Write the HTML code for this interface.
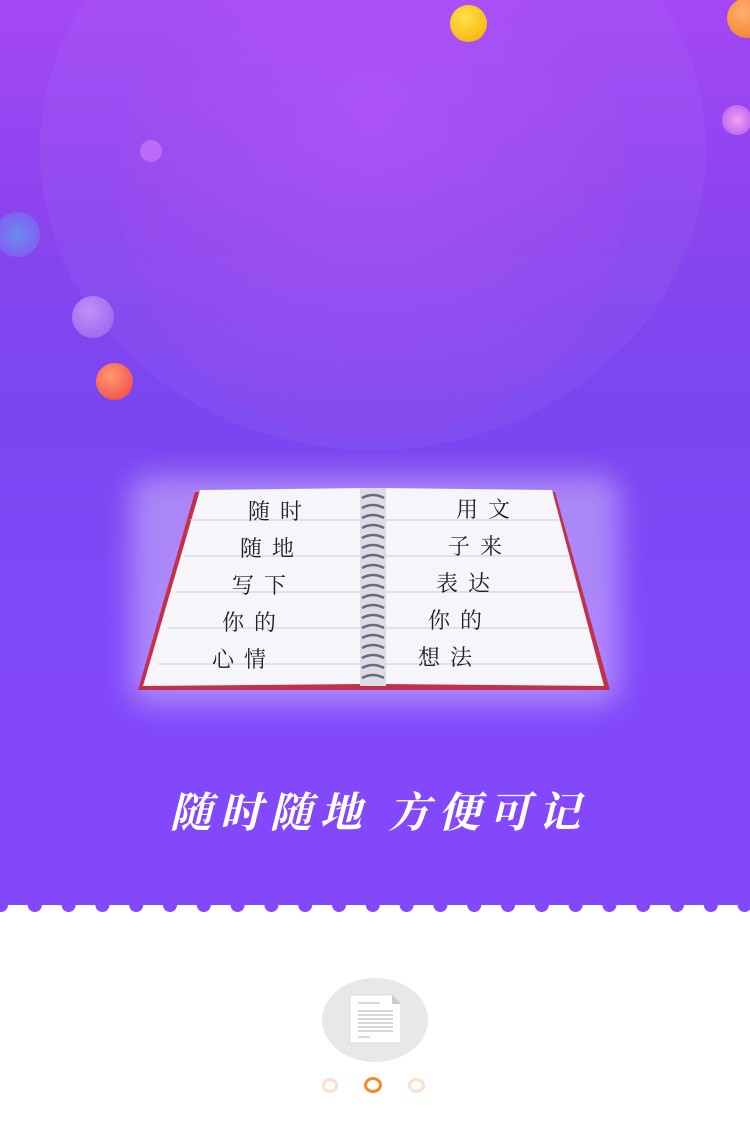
<!DOCTYPE html>
<html><head><meta charset="utf-8"><style>
body{margin:0;width:750px;height:1134px;overflow:hidden;background:#fff;font-family:"Liberation Sans","Noto Sans CJK SC",sans-serif}
#hero{position:absolute;left:0;top:0;width:750px;height:905px;background:linear-gradient(180deg,#a447f6 0%,#8a44ee 25%,#7a46f0 45%,#8148fa 70%,#8448fb 100%);overflow:hidden}
.c{position:absolute;border-radius:50%}
.ball{position:absolute;border-radius:50%}
.book-text{position:absolute;font-family:"Noto Serif CJK SC","WenQuanYi Zen Hei",serif;font-size:22px;color:#222;letter-spacing:10px;line-height:37px}
</style></head><body>
<div id="hero">
<div class="c" style="left:40px;top:-150px;width:666px;height:600px;background:rgba(255,255,255,0.04)"></div>
<div class="c" style="left:118px;top:-70px;width:510px;height:510px;background:radial-gradient(circle at 50% 40%,rgba(190,90,250,0.45),rgba(120,60,230,0.2))"></div>
<div class="ball" style="left:450px;top:5px;width:37px;height:37px;background:radial-gradient(circle at 40% 35%,#ffe34a,#f5a800)"></div>
<div class="ball" style="left:727px;top:-2px;width:40px;height:40px;background:radial-gradient(circle at 40% 35%,#ffb070,#f07a20)"></div>
<div class="ball" style="left:722px;top:105px;width:30px;height:30px;background:radial-gradient(#f3a0f0,rgba(230,130,240,0.3))"></div>
<div class="ball" style="left:140px;top:140px;width:22px;height:22px;background:rgba(220,140,250,0.5)"></div>
<div class="ball" style="left:-5px;top:212px;width:45px;height:45px;background:radial-gradient(#6d8af0,rgba(120,130,240,0.2))"></div>
<div class="ball" style="left:72px;top:296px;width:42px;height:42px;background:radial-gradient(circle at 40% 35%,#c190fa,#9260ec)"></div>
<div class="ball" style="left:96px;top:363px;width:37px;height:37px;background:radial-gradient(circle at 40% 35%,#ff9a70,#f04040)"></div>

<div style="position:absolute;left:130px;top:475px;width:490px;height:230px;background:rgba(255,255,255,0.35);filter:blur(14px);border-radius:20px"></div>
<svg style="position:absolute;left:0;top:0" width="750" height="905">
<polygon points="195,492 370,492 370,690 138,690" fill="#c2304a"/>
<polygon points="370,492 555,492 610,690 370,690" fill="#c2304a"/>
<polygon points="200,490 366,488 366,684 143,686" fill="#f6f6fa"/>
<polygon points="376,488 552,490 604,686 376,684" fill="#f6f6fa"/>
<g stroke="#c8cce0" stroke-width="1">
<line x1="190" y1="520" x2="366" y2="520"/><line x1="184" y1="556" x2="366" y2="556"/><line x1="176" y1="592" x2="366" y2="592"/><line x1="168" y1="628" x2="366" y2="628"/><line x1="158" y1="664" x2="366" y2="664"/>
<line x1="376" y1="520" x2="560" y2="520"/><line x1="376" y1="556" x2="568" y2="556"/><line x1="376" y1="592" x2="578" y2="592"/><line x1="376" y1="628" x2="588" y2="628"/><line x1="376" y1="664" x2="598" y2="664"/>
</g>
<rect x="360" y="488" width="26" height="198" fill="#dcdce6"/>
<g fill="none" stroke="#6a6a78" stroke-width="2.5">
<path d="M362 498 q11 -6 22 0"/><path d="M362 508 q11 -6 22 0"/><path d="M362 518 q11 -6 22 0"/><path d="M362 528 q11 -6 22 0"/><path d="M362 538 q11 -6 22 0"/><path d="M362 548 q11 -6 22 0"/><path d="M362 558 q11 -6 22 0"/><path d="M362 568 q11 -6 22 0"/><path d="M362 578 q11 -6 22 0"/><path d="M362 588 q11 -6 22 0"/><path d="M362 598 q11 -6 22 0"/><path d="M362 608 q11 -6 22 0"/><path d="M362 618 q11 -6 22 0"/><path d="M362 628 q11 -6 22 0"/><path d="M362 638 q11 -6 22 0"/><path d="M362 648 q11 -6 22 0"/><path d="M362 658 q11 -6 22 0"/><path d="M362 668 q11 -6 22 0"/><path d="M362 678 q11 -6 22 0"/>
</g>
</svg>
<div class="book-text" style="left:212px;top:492px">
<div style="margin-left:36px">随时</div><div style="margin-left:28px">随地</div><div style="margin-left:20px">写下</div><div style="margin-left:10px">你的</div><div style="margin-left:0">心情</div></div>
<div class="book-text" style="left:418px;top:490px">
<div style="margin-left:38px">用文</div><div style="margin-left:30px">子来</div><div style="margin-left:18px">表达</div><div style="margin-left:10px">你的</div><div style="margin-left:0">想法</div></div>

<div style="position:absolute;left:0;width:750px;top:780px;text-align:center;color:#fff;font-size:42px;font-weight:bold;letter-spacing:8px;text-indent:8px;font-style:italic;font-family:'Noto Serif CJK SC','WenQuanYi Zen Hei',serif">随时随地 方便可记</div>
</div>
<svg style="position:absolute;left:0;top:900px" width="750" height="16">
<g fill="#8448fb" id="sc"></g>
</svg>
<script>
var g=document.getElementById('sc');
for(var x=1;x<760;x+=33.8){var c=document.createElementNS('http://www.w3.org/2000/svg','circle');c.setAttribute('cx',x);c.setAttribute('cy',5);c.setAttribute('r',7);g.appendChild(c);}
var r=document.createElementNS('http://www.w3.org/2000/svg','rect');r.setAttribute('x',0);r.setAttribute('y',0);r.setAttribute('width',750);r.setAttribute('height',5);g.appendChild(r);
</script>
<div style="position:absolute;left:322px;top:978px;width:106px;height:84px;border-radius:50%;background:#e9e8e8"></div>
<svg style="position:absolute;left:348px;top:993px" width="56" height="54">
<polygon points="2,2 44,2 53,11 53,50 2,50" fill="#fff" stroke="#ddd"/>
<polygon points="44,2 53,11 44,11" fill="#ccc"/>
<g stroke="#ccc" stroke-width="1.5"><line x1="10" y1="10" x2="32" y2="10"/><line x1="10" y1="18" x2="45" y2="18"/><line x1="10" y1="22" x2="45" y2="22"/><line x1="10" y1="26" x2="45" y2="26"/><line x1="10" y1="30" x2="45" y2="30"/><line x1="10" y1="34" x2="45" y2="34"/><line x1="10" y1="38" x2="45" y2="38"/><line x1="10" y1="44" x2="22" y2="44"/></g>
</svg>
<div style="position:absolute;left:322px;top:1078px;width:16px;height:15px;border:3px solid #fde0cc;border-radius:50%;box-sizing:border-box"></div>
<div style="position:absolute;left:364px;top:1077px;width:18px;height:16px;border:3px solid #f58a2a;border-radius:50%;box-sizing:border-box"></div>
<div style="position:absolute;left:408px;top:1078px;width:17px;height:15px;border:3px solid #fde0cc;border-radius:50%;box-sizing:border-box"></div>
</body></html>
